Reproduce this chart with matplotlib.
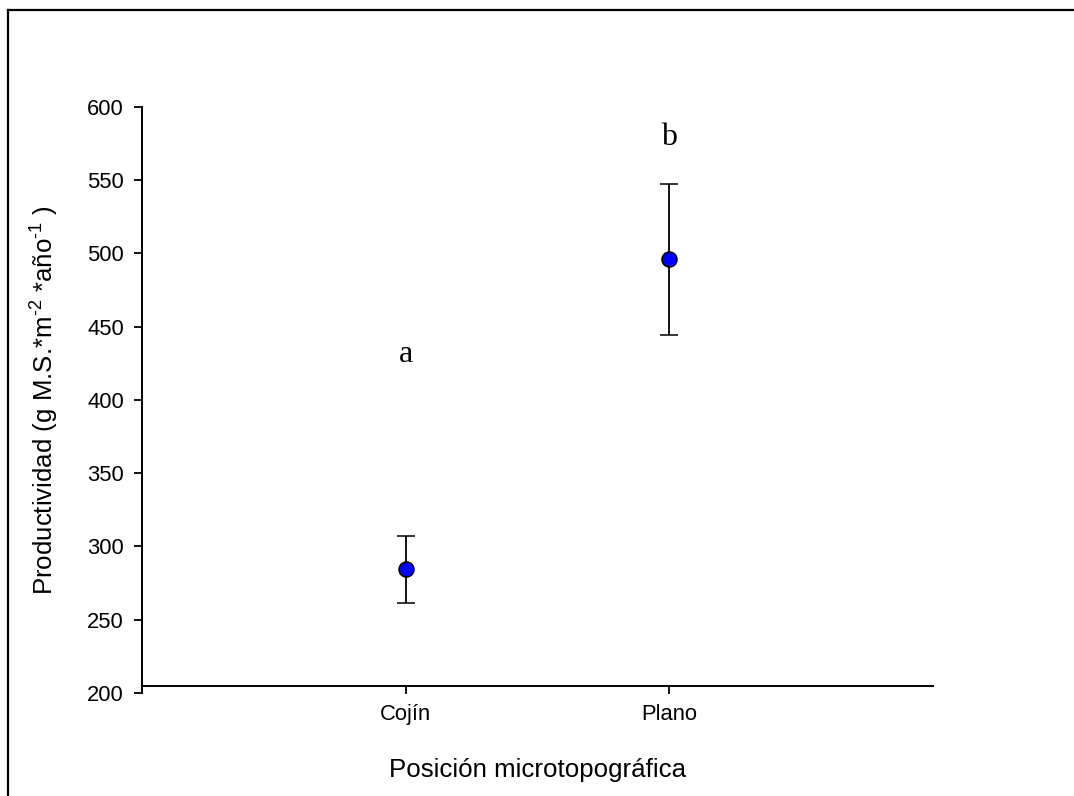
import matplotlib
matplotlib.use("Agg")
import matplotlib.pyplot as plt
from matplotlib.lines import Line2D

plt.rcParams['font.family'] = ['Liberation Sans', 'DejaVu Sans']
plt.rcParams['mathtext.fontset'] = 'custom'
plt.rcParams['mathtext.rm'] = 'Liberation Sans'
plt.rcParams['mathtext.it'] = 'Liberation Sans:italic'

# data
categories = ['Cojín', 'Plano']
means = [284.5, 496.0]
errors = [23.0, 51.5]
letters = ['a', 'b']
letter_y = [431, 579]

fig = plt.figure(figsize=(10.74, 7.96), dpi=100)
ax = fig.add_axes([0.1322, 0.1294, 0.7365, 0.7362])

xs = list(range(len(categories)))
ax.errorbar(xs, means, yerr=errors, fmt='o', color='black', ecolor='black',
            elinewidth=1.3, capsize=6.2, capthick=1.3,
            markersize=10.8, markerfacecolor='#0000ff', markeredgecolor='black',
            markeredgewidth=1.1, zorder=3)

for x, t, y in zip(xs, letters, letter_y):
    ax.text(x, y, t, ha='center', va='center', fontsize=23,
            family='Liberation Serif')

ax.set_xlim(-1, 2)
ax.set_ylim(200, 600)
ax.set_yticks(range(200, 601, 50))
ax.set_xticks(xs)
ax.set_xticklabels(categories)

for s in ['top', 'right']:
    ax.spines[s].set_visible(False)
ax.spines['left'].set_linewidth(1.4)
ax.spines['bottom'].set_linewidth(1.4)
ax.spines['bottom'].set_position(('axes', 0.012))

ax.tick_params(axis='both', direction='out', length=6, width=1.3,
               labelsize=15.8, pad=7, colors='black')

ax.set_xlabel('Posición microtopográfica', fontsize=18.6)
ax.set_ylabel('Productividad (g M.S.*m$^{\u20102}$ *año$^{\u20101}$ )', fontsize=18.6)
ax.xaxis.set_label_coords(0.5, -0.131)
ax.xaxis.label.set_va('center')
ax.yaxis.set_label_coords(-0.123, 0.5)
ax.yaxis.label.set_va('center')

# outer frame (cut off at right and bottom)
fig.add_artist(Line2D([8 / 1074, 8 / 1074], [0, 1 - 10 / 796], transform=fig.transFigure,
                      color='black', lw=1.6))
fig.add_artist(Line2D([8 / 1074, 1], [1 - 10 / 796, 1 - 10 / 796], transform=fig.transFigure,
                      color='black', lw=1.6))

fig.savefig('out.png', dpi=100)
